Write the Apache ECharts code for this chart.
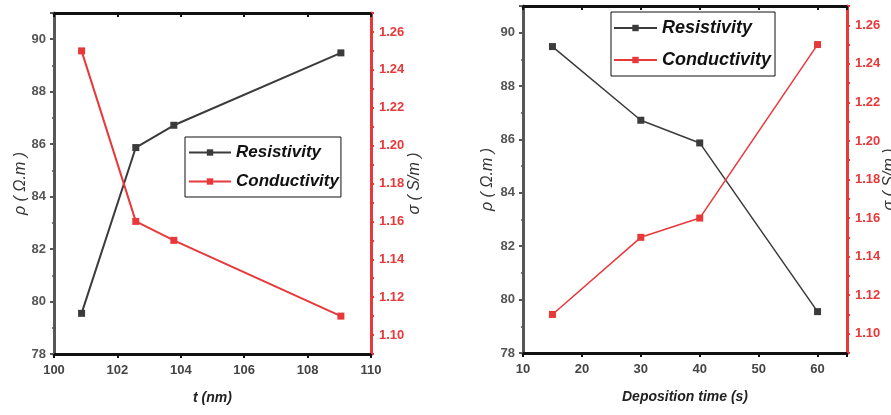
<!DOCTYPE html>
<html><head><meta charset="utf-8">
<script src="https://cdn.jsdelivr.net/npm/echarts@6/dist/echarts.min.js"></script>
<style>html,body{margin:0;padding:0;background:#fff}#c{width:891px;height:415px}</style>
</head><body><div id="c"></div>
<script>
// Left panel: thickness
const thickness = [100.87, 102.58, 103.78, 109.05];
const resistivityByThickness = [79.55, 85.87, 86.72, 89.48];
const conductivityByThickness = [1.25, 1.16, 1.15, 1.11];
// Right panel: deposition time
const depositionTime = [15, 30, 40, 60];
const resistivityByTime = [89.48, 86.72, 85.87, 79.55];
const conductivityByTime = [1.11, 1.15, 1.16, 1.25];

const GRAY = '#3b3b3b', RED = '#e8383a', AXGRAY = '#575757';
const NUM_FONT = "'Liberation Sans',Arial,sans-serif";
const TXT_FONT = "'Liberation Sans',Arial,sans-serif";

const pairs = (xs, ys) => xs.map((x, i) => [x, ys[i]]);

function xAxisPair(gi, min, max, interval, name, maxLabel) {
  const base = {
    type: 'value', gridIndex: gi, min, max, interval,
    splitLine: { show: false },
    axisLine: { show: true, onZero: false, lineStyle: { color: '#111', width: 3 } },
    axisTick: { show: true, length: 4, lineStyle: { color: '#111', width: 2 } },
    minorTick: { show: true, splitNumber: 2, length: 2, lineStyle: { color: '#111', width: 1.5 } }
  };
  return [
    Object.assign({}, base, {
      position: 'bottom', name, nameLocation: 'middle', nameGap: 37, nameMoveOverlap: false,
      nameTextStyle: { fontFamily: TXT_FONT, fontStyle: 'italic', fontWeight: 'bold', fontSize: 14, color: '#222' },
      axisTick: Object.assign({}, base.axisTick, { inside: false }),
      axisLabel: {
        margin: 10, fontFamily: NUM_FONT, fontWeight: 'bold', fontSize: 13, color: '#444',
        formatter: v => (v <= maxLabel + 1e-9) ? String(Math.round(v)) : ''
      }
    }),
    Object.assign({}, base, {
      position: 'top',
      axisTick: Object.assign({}, base.axisTick, { inside: true }),
      axisLabel: { show: false }
    })
  ];
}

function yLeft(gi, nameGap) {
  return {
    type: 'value', gridIndex: gi, position: 'left', min: 78, max: 91, interval: 2,
    name: 'ρ ( Ω.m )', nameLocation: 'middle', nameGap, nameRotate: 90, nameMoveOverlap: false,
    nameTextStyle: { fontFamily: TXT_FONT, fontStyle: 'italic', fontSize: 16, color: '#333' },
    splitLine: { show: false },
    axisLine: { show: true, onZero: false, lineStyle: { color: AXGRAY, width: 3 } },
    axisTick: { show: true, length: 4, lineStyle: { color: AXGRAY, width: 2 } },
    minorTick: { show: true, splitNumber: 2, length: 2, lineStyle: { color: AXGRAY, width: 1.5 } },
    axisLabel: {
      margin: 8, fontFamily: NUM_FONT, fontWeight: 'bold', fontSize: 13, color: '#555',
      formatter: v => (Math.round(v) % 2 === 0 && v <= 90.01) ? String(Math.round(v)) : ''
    }
  };
}

function yRight(gi, nameGap) {
  return {
    type: 'value', gridIndex: gi, position: 'right', min: 1.09, max: 1.27, interval: 0.01,
    name: 'σ ( S/m )', nameLocation: 'middle', nameGap, nameRotate: 90, nameMoveOverlap: false,
    nameTextStyle: { fontFamily: TXT_FONT, fontStyle: 'italic', fontSize: 16, color: '#333' },
    splitLine: { show: false },
    axisLine: { show: true, onZero: false, lineStyle: { color: RED, width: 3 } },
    axisTick: { show: true, length: 3, lineStyle: { color: RED, width: 2 } },
    axisLabel: {
      margin: 8, fontFamily: NUM_FONT, fontWeight: 'bold', fontSize: 13, color: RED,
      formatter: v => { const k = Math.round(v * 100); return (k % 2 === 0 && k <= 126) ? v.toFixed(2) : ''; }
    }
  };
}

function series(name, color, xi, yi, data, lw) {
  return {
    name, type: 'line', xAxisIndex: xi, yAxisIndex: yi, data,
    symbol: 'rect', symbolSize: 7, showSymbol: true,
    lineStyle: { color, width: lw }, itemStyle: { color },
    emphasis: { disabled: true }, animation: false
  };
}

const legendBase = {
  orient: 'vertical', backgroundColor: '#fff', borderColor: '#111', borderWidth: 1,
  itemWidth: 42, itemHeight: 8,
  data: ['Resistivity', 'Conductivity'], selectedMode: false
};

const option = {
  animation: false,
  backgroundColor: '#fff',
  grid: [
    { left: 54, top: 13, right: 891 - 371, bottom: 415 - 354, containLabel: false, outerBoundsMode: 'none' },
    { left: 523, top: 6, right: 891 - 847, bottom: 415 - 353, containLabel: false, outerBoundsMode: 'none' }
  ],
  xAxis: [
    ...xAxisPair(0, 100, 110, 2, 't (nm)', 110),
    ...xAxisPair(1, 10, 65, 10, 'Deposition time (s)', 60)
  ],
  yAxis: [yLeft(0, 25), yRight(0, 36), yLeft(1, 27), yRight(1, 35)],
  legend: [
    Object.assign({}, legendBase, {
      left: 185, top: 137, padding: [7, 2, 7, 3], itemGap: 12,
      textStyle: { fontFamily: TXT_FONT, fontStyle: 'italic', fontWeight: 'bold', fontSize: 17, color: '#111' }
    }),
    Object.assign({}, legendBase, {
      left: 611, top: 12, padding: [7, 4, 7, 2], itemGap: 14, itemWidth: 43,
      textStyle: { fontFamily: TXT_FONT, fontStyle: 'italic', fontWeight: 'bold', fontSize: 18, color: '#111' }
    })
  ],
  series: [
    series('Resistivity', GRAY, 0, 0, pairs(thickness, resistivityByThickness), 2),
    series('Conductivity', RED, 0, 1, pairs(thickness, conductivityByThickness), 2),
    series('Resistivity', GRAY, 2, 2, pairs(depositionTime, resistivityByTime), 1.5),
    series('Conductivity', RED, 2, 3, pairs(depositionTime, conductivityByTime), 1.5)
  ]
};
const chart = echarts.init(document.getElementById('c'), null, { renderer: 'canvas' });
chart.setOption(option);
</script></body></html>
